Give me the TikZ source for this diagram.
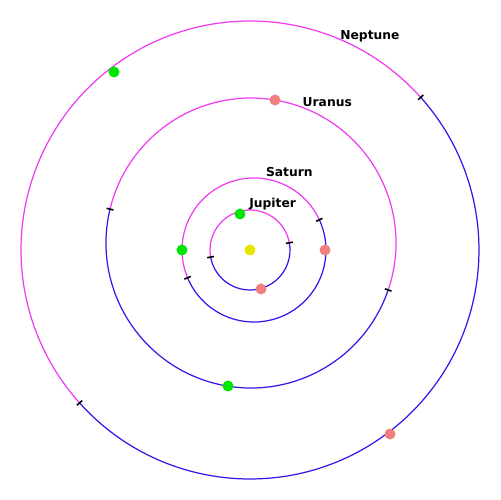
\documentclass[tikz,border=0pt]{standalone}
\usepackage{fontspec}
\newfontfamily\labelfont{DejaVu Sans}
\definecolor{orbitabove}{RGB}{240,60,240}
\definecolor{orbitbelow}{RGB}{60,20,235}
\definecolor{planetgreen}{RGB}{0,230,0}
\definecolor{planetsalmon}{RGB}{240,128,128}
\definecolor{sunyellow}{RGB}{230,230,0}
\tikzset{
	upperarc/.style={draw=orbitabove, line width=0.7pt},
	lowerarc/.style={draw=orbitbelow, line width=0.7pt},
	nodemark/.style={draw=black, line width=0.9pt},
	planetname/.style={font=\labelfont\bfseries\fontsize{7pt}{8pt}\selectfont, inner sep=0pt, anchor=base west}
}
\begin{document}
\begin{tikzpicture}[x=0.02cm,y=0.02cm]
			\useasboundingbox (-250,-250) rectangle (250,250);
			\coordinate (sun) at (0,0);
			\coordinate (jup) at (0,0);
			\coordinate (sat) at (4,0);
			\coordinate (ura) at (1,7);
			\coordinate (nep) at (0,0);
			% orbits, above and below the ecliptic
			\draw[upperarc] ([shift={(jup)}]10.4:40) arc (10.4:190.2:40);
			\draw[lowerarc] ([shift={(jup)}]190.2:40) arc (190.2:370.4:40);
			\draw[upperarc] ([shift={(sat)}]24.8:72) arc (24.8:202.7:72);
			\draw[lowerarc] ([shift={(sat)}]202.7:72) arc (202.7:384.8:72);
			\draw[upperarc] ([shift={(ura)}]-18.9:145) arc (-18.9:166.5:145);
			\draw[lowerarc] ([shift={(ura)}]166.5:145) arc (166.5:341.1:145);
			\draw[upperarc] ([shift={(nep)}]41.8:229) arc (41.8:221.9:229);
			\draw[lowerarc] ([shift={(nep)}]221.9:229) arc (221.9:401.8:229);
			% nodes
			\draw[nodemark] ([shift={(jup)}]10.4:36.5) -- ([shift={(jup)}]10.4:43.5);
			\draw[nodemark] ([shift={(jup)}]190.2:36.5) -- ([shift={(jup)}]190.2:43.5);
			\draw[nodemark] ([shift={(sat)}]24.8:68.5) -- ([shift={(sat)}]24.8:75.5);
			\draw[nodemark] ([shift={(sat)}]202.7:68.5) -- ([shift={(sat)}]202.7:75.5);
			\draw[nodemark] ([shift={(ura)}]-18.9:141.5) -- ([shift={(ura)}]-18.9:148.5);
			\draw[nodemark] ([shift={(ura)}]166.5:141.5) -- ([shift={(ura)}]166.5:148.5);
			\draw[nodemark] ([shift={(nep)}]41.8:225.5) -- ([shift={(nep)}]41.8:232.5);
			\draw[nodemark] ([shift={(nep)}]221.9:225.5) -- ([shift={(nep)}]221.9:232.5);
			% planets
			\fill[sunyellow] (sun) circle (5.5);
			\fill[planetgreen] (-10,36) circle (5.5);
			\fill[planetsalmon] (11,-39) circle (5.5);
			\fill[planetgreen] (-68,0) circle (5.5);
			\fill[planetsalmon] (75,0) circle (5.5);
			\fill[planetsalmon] (25,150) circle (5.5);
			\fill[planetgreen] (-22,-136) circle (5.5);
			\fill[planetgreen] (-136,178) circle (5.5);
			\fill[planetsalmon] (140,-184) circle (5.5);
			% labels
			\node[planetname] (ljup) at (-1,42.7) {Jupiter};
			\node[planetname] (lsat) at (15.7,73.3) {Saturn};
			\node[planetname] (lura) at (52.3,143.3) {Uranus};
			\node[planetname] (lnep) at (90,210.7) {Neptune};
		\end{tikzpicture}
\end{document}
